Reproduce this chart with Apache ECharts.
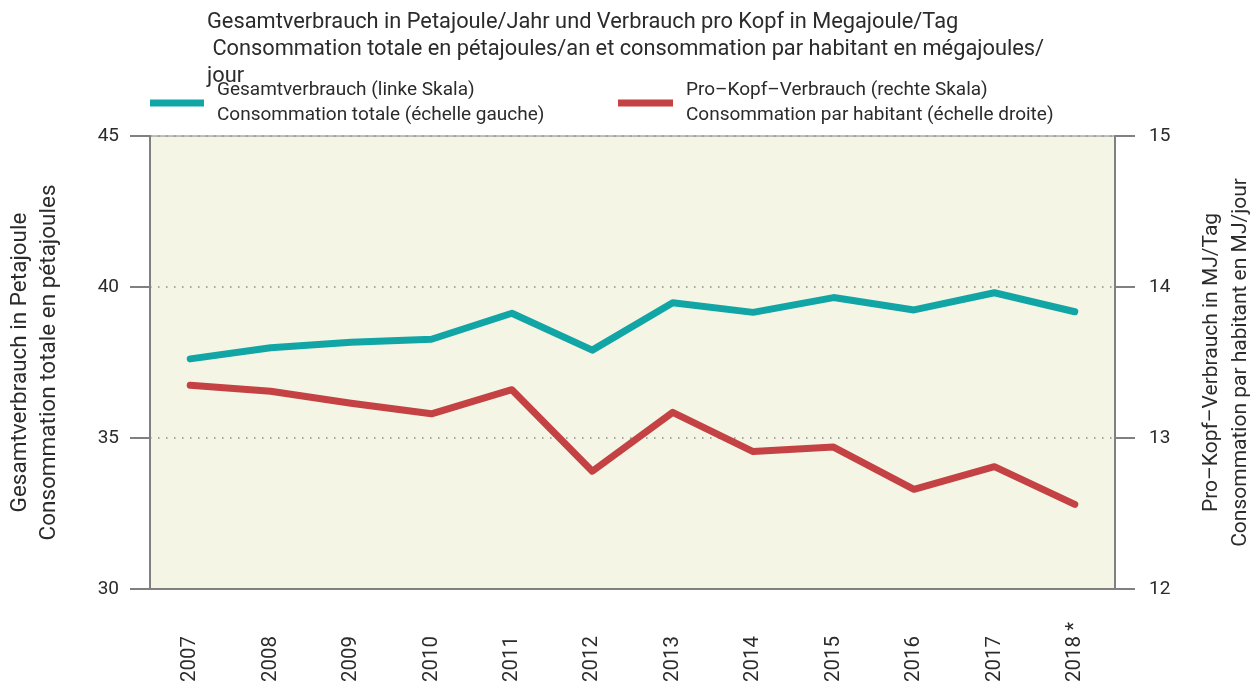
<!DOCTYPE html>
<html>
<head>
<meta charset="utf-8">
<script src="https://cdn.jsdelivr.net/npm/echarts@6/dist/echarts.min.js"></script>
<style>
  html, body { margin: 0; padding: 0; background: #fff; }
  #main { width: 1256px; height: 686px; }
</style>
</head>
<body>
<div id="main"></div>
<script>
var years = ['2007', '2008', '2009', '2010', '2011', '2012', '2013', '2014', '2015', '2016', '2017', '2018 *'];
// Gesamtverbrauch, PJ/Jahr (linke Skala)
var totalPJ = [37.62, 37.99, 38.17, 38.27, 39.13, 37.91, 39.48, 39.16, 39.65, 39.24, 39.81, 39.18];
// Pro-Kopf-Verbrauch, MJ/Tag (rechte Skala)
var perCapitaMJ = [13.35, 13.31, 13.23, 13.16, 13.32, 12.78, 13.17, 12.91, 12.94, 12.66, 12.81, 12.56];

var nameTotal = 'Gesamtverbrauch (linke Skala)\nConsommation totale (échelle gauche)';
var namePerCapita = 'Pro\u2013Kopf\u2013Verbrauch (rechte Skala)\nConsommation par habitant (échelle droite)';

var font = 'Roboto, "Noto Sans", sans-serif';
var grey = '#808080';
var txt = '#2b2b2b';

var chart = echarts.init(document.getElementById('main'));

var legendText = { fontFamily: font, fontSize: 19, color: txt, lineHeight: 25, padding: [0, 0, 0, 8] };

var option = {
    backgroundColor: '#ffffff',
    textStyle: { fontFamily: font, color: txt },
    title: {
        text: 'Gesamtverbrauch in Petajoule/Jahr und Verbrauch pro Kopf in Megajoule/Tag\n Consommation totale en pétajoules/an et consommation par habitant en mégajoules/\njour',
        left: 207,
        top: 9,
        padding: 0,
        textStyle: {
            fontFamily: font,
            fontSize: 21.8,
            fontWeight: 'normal',
            color: txt,
            lineHeight: 27
        }
    },
    legend: [
        {
            data: [nameTotal],
            left: 150,
            top: 78,
            padding: 0,
            itemWidth: 54,
            itemHeight: 7,
            icon: 'rect',
            textStyle: legendText
        },
        {
            data: [namePerCapita],
            left: 618,
            top: 78,
            padding: 0,
            itemWidth: 55,
            itemHeight: 7,
            icon: 'rect',
            textStyle: legendText
        }
    ],
    grid: {
        left: 150,
        right: 141,
        top: 136,
        bottom: 97,
        containLabel: false,
        outerBoundsMode: 'none',
        show: true,
        backgroundColor: '#f4f5e4',
        borderColor: grey,
        borderWidth: 1
    },
    xAxis: {
        type: 'category',
        data: years,
        boundaryGap: true,
        axisLine: { lineStyle: { color: grey, width: 2 } },
        axisTick: { alignWithLabel: true, length: 19, lineStyle: { color: grey, width: 2 } },
        axisLabel: { rotate: 90, align: 'left', margin: 93, fontSize: 20.5, color: txt, fontFamily: font }
    },
    yAxis: [
        {
            type: 'value',
            min: 30,
            max: 45,
            interval: 5,
            position: 'left',
            name: 'Gesamtverbrauch in Petajoule\nConsommation totale en pétajoules',
            nameLocation: 'middle',
            nameRotate: 90,
            nameGap: 86,
            nameTextStyle: { fontFamily: font, fontSize: 22.5, color: txt, lineHeight: 29 },
            axisLine: { show: true, lineStyle: { color: grey, width: 2 } },
            axisTick: { show: true, length: 20, lineStyle: { color: grey, width: 2 } },
            axisLabel: { margin: 31, fontSize: 19, color: txt, fontFamily: font },
            splitLine: { show: true, lineStyle: { color: '#8a8a8a', width: 1.5, type: [1.5, 6.5] } }
        },
        {
            type: 'value',
            min: 12,
            max: 15,
            interval: 1,
            position: 'right',
            name: 'Pro\u2013Kopf\u2013Verbrauch in MJ/Tag\nConsommation par habitant en MJ/jour',
            nameLocation: 'middle',
            nameRotate: 90,
            nameGap: 82,
            nameTextStyle: { fontFamily: font, fontSize: 21, color: txt, lineHeight: 29 },
            axisLine: { show: true, lineStyle: { color: grey, width: 2 } },
            axisTick: { show: true, length: 20, lineStyle: { color: grey, width: 2 } },
            axisLabel: { margin: 34, fontSize: 19, color: txt, fontFamily: font },
            splitLine: { show: false }
        }
    ],
    series: [
        {
            name: nameTotal,
            type: 'line',
            yAxisIndex: 0,
            data: totalPJ,
            symbol: 'none',
            color: '#11a6a5',
            lineStyle: { width: 7, cap: 'round', join: 'round' }
        },
        {
            name: namePerCapita,
            type: 'line',
            yAxisIndex: 1,
            data: perCapitaMJ,
            symbol: 'none',
            color: '#c44243',
            lineStyle: { width: 7, cap: 'round', join: 'round' }
        }
    ]
};

chart.setOption(option);
</script>
</body>
</html>
